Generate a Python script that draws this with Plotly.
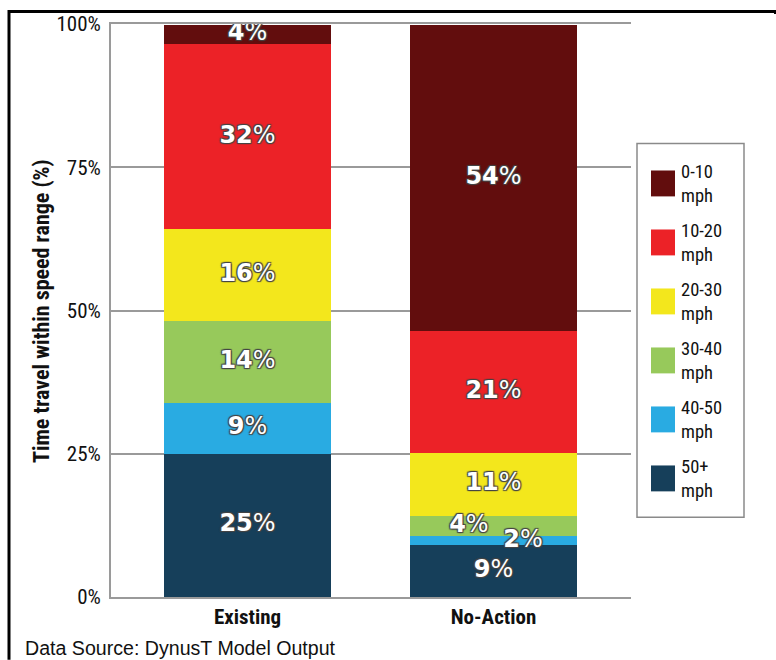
import plotly.graph_objects as go
import numpy as np

# data (segment heights, printed labels as shown)
scenarios = ["Existing", "No-Action"]
speed_bins = ["0-10", "10-20", "20-30", "30-40", "40-50", "50+"]
unit = "mph"
existing = [3.4, 32.3, 16.0, 14.3, 8.9, 25.0]
no_action = [53.5, 21.2, 11.0, 3.5, 1.7, 9.0]
existing_labels = ["4%", "32%", "16%", "14%", "9%", "25%"]
no_action_labels = ["54%", "21%", "11%", "4%", "2%", "9%"]
colors = ["#620d0d", "#ec2227", "#f3e71c", "#97c95b", "#29abe2", "#163f5a"]
y_ticks = [0, 25, 50, 75, 100]
y_ticklabels = ["0%", "25%", "50%", "75%", "100%"]

W, H = 776, 660
L, R, T, B = 111, 145, 22, 63
pw, ph = W - L - R, H - T - B

def px(x):
    return (x - L) / pw

def py(y):
    return (H - B - y) / ph

cond = "Roboto Condensed, Liberation Sans Narrow, Arial Narrow, sans-serif"
reg = "Liberation Sans, Arial, sans-serif"
outline = "1px 1px 1px #444, -1px -1px 1px #444, 1px -1px 1px #444, -1px 1px 1px #444"

fig = go.Figure()
vals = np.array([existing, no_action])  # scenario x bin
labels = [existing_labels, no_action_labels]
# stack from fastest (bottom) to slowest (top)
for i in reversed(range(len(speed_bins))):
    fig.add_trace(go.Bar(
        x=[0, 1], y=vals[:, i], marker=dict(color=colors[i], line=dict(width=0)),
        width=0.68, showlegend=False, hoverinfo="skip"))

# segment labels
cum = np.cumsum(vals[:, ::-1], axis=1)[:, ::-1]  # top of each segment
mid = cum - vals / 2
x_off = np.zeros_like(mid)
x_off[1, 3] = -0.1   # 4% nudged left
x_off[1, 4] = 0.12   # 2% nudged right
lx, ly, lt = [], [], []
for s in range(2):
    for i in range(len(speed_bins)):
        lx.append(s + x_off[s, i])
        ly.append(mid[s, i])
        lt.append("<b>" + labels[s][i][:-1] + "</b>%")
fig.add_trace(go.Scatter(
    x=lx, y=ly, text=lt, mode="text", showlegend=False, hoverinfo="skip",
    textfont=dict(family="DejaVu Sans, Verdana, sans-serif", size=24, color="white",
                  shadow=outline)))

shapes = []
annotations = []
# custom legend
shapes.append(dict(type="rect", xref="paper", yref="paper", x0=px(637), x1=px(744),
                   y0=py(517), y1=py(142), line=dict(color="#8a8a8a", width=1.5),
                   fillcolor="white", layer="below"))
for i, name in enumerate(speed_bins):
    cy = 182 + i * 59.2
    shapes.append(dict(type="rect", xref="paper", yref="paper", x0=px(651), x1=px(675),
                       y0=py(cy + 13), y1=py(cy - 13), fillcolor=colors[i], line=dict(width=0)))
    annotations.append(dict(xref="paper", yref="paper", x=px(679), y=py(cy + 1),
                            text=f"{name}<br>{unit}", align="left",
                            showarrow=False, xanchor="left", yanchor="middle",
                            font=dict(family=cond, size=18.5, color="#111")))

# frame
shapes.append(dict(type="line", xref="paper", yref="paper", x0=px(8), x1=px(776),
                   y0=py(9.5), y1=py(9.5), line=dict(color="black", width=3)))
shapes.append(dict(type="line", xref="paper", yref="paper", x0=px(9), x1=px(9),
                   y0=py(8), y1=py(660), line=dict(color="black", width=3)))
shapes.append(dict(type="line", xref="paper", yref="paper", x0=px(775), x1=px(775),
                   y0=py(8), y1=py(12), line=dict(color="black", width=2)))

annotations.append(dict(xref="paper", yref="paper", x=px(42), y=py(310),
                        xanchor="center", yanchor="middle",
                        text="<b>Time travel within speed range (%)</b>", textangle=-90,
                        showarrow=False, font=dict(family=cond, size=22, color="#111")))
annotations.append(dict(xref="paper", yref="paper", x=px(23), y=py(648),
                        text="Data Source: DynusT Model Output", xanchor="left", yanchor="middle",
                        showarrow=False, font=dict(family=reg, size=19.6, color="#111")))

fig.update_layout(
    width=W, height=H, margin=dict(l=L, r=R, t=T, b=B),
    paper_bgcolor="white", plot_bgcolor="white", barmode="stack", bargap=0,
    shapes=shapes, annotations=annotations,
    xaxis=dict(range=[-0.555, 1.559], tickvals=[0, 1],
               ticktext=[f"<b>{s}</b>" for s in scenarios],
               tickfont=dict(family=cond, size=21, color="#111"),
               showgrid=False, zeroline=False, showline=True, mirror=True,
               linecolor="#9a9a9a", linewidth=2, layer="below traces",
               ticks="", fixedrange=True),
    yaxis=dict(range=[0, 100], tickvals=y_ticks, ticktext=y_ticklabels,
               tickfont=dict(family=cond, size=21, color="#111"),
               showgrid=True, gridcolor="#9a9a9a", gridwidth=2, zeroline=False,
               showline=True, linecolor="#9a9a9a", linewidth=2, ticks="",
               ticklabelstandoff=4),
)
fig.write_html("out.html", config={"displayModeBar": False},
               post_script="document.body.style.margin='0px';")
